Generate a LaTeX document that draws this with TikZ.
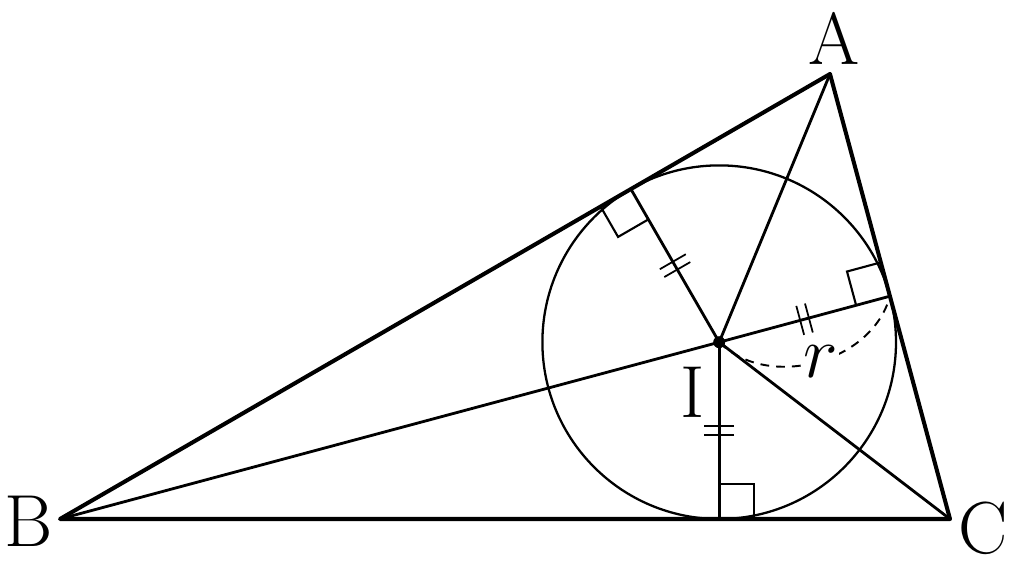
\documentclass[tikz,border=0pt]{standalone}
\usepackage{fix-cm}
\usetikzlibrary{calc}
\tikzset{
  side/.style={line width=2.3pt, line cap=round, line join=round},
  inner/.style={line width=1.6pt},
  circ/.style={line width=1.3pt},
  ramark/.style={line width=1.2pt},
  tick/.style={line width=1.0pt},
  lbl/.style={font=\fontsize{42}{50}\selectfont, inner sep=0pt},
}
\begin{document}
\begin{tikzpicture}[x=0.02cm, y=-0.02cm]
\useasboundingbox (0,0) rectangle (1015,570);
\coordinate (A) at (830,74);
\coordinate (B) at (60,519);
\coordinate (C) at (950,519);
\coordinate (I) at (719.2,342.2);
\coordinate (Fa) at (719.2,519);
\coordinate (Fb) at (889.9,296.2);
\coordinate (Fc) at (630.9,189.1);
% inner lines
\draw[inner] (A) -- (I);
\draw[inner] (B) -- (I);
\draw[inner] (C) -- (I);
\draw[inner] (I) -- (Fa);
\draw[inner] (I) -- (Fb);
\draw[inner] (I) -- (Fc);
\draw[circ] (I) circle[radius=176.8];
% right angle marks
\foreach \F/\P in {Fa/C, Fb/A, Fc/B}{
  \draw[ramark] ($(\F)!0.7cm!(\P)$) -- ($($(\F)!0.7cm!(\P)$)+($(\F)!0.7cm!(I)$)-(\F)$) -- ($(\F)!0.7cm!(I)$);
}
% ticks
\foreach \F in {Fa,Fb,Fc}{
  \draw[tick] ($(I)!0.4745!(\F)!0.3cm!90:(\F)$) -- ($(I)!0.4745!(\F)!0.3cm!-90:(\F)$);
  \draw[tick] ($(I)!0.5255!(\F)!0.3cm!90:(\F)$) -- ($(I)!0.5255!(\F)!0.3cm!-90:(\F)$);
}
% dashed arc with r
\draw[line width=1.1pt, dash pattern=on 5pt off 4pt] (I) to[bend right=60] node[pos=0.52, fill=white, lbl, inner sep=1pt] (rl) {$r$} (Fb);
% triangle
\draw[side] (A) -- (B) -- (C) -- cycle;
\fill (I) circle[radius=6];
% labels
\node[lbl] (la) at (834,38) {A};
\node[lbl] (lb) at (29,521) {B};
\node[lbl] (lc) at (983,528) {C};
\node[lbl] (li) at (693,392) {I};
\end{tikzpicture}
\end{document}
